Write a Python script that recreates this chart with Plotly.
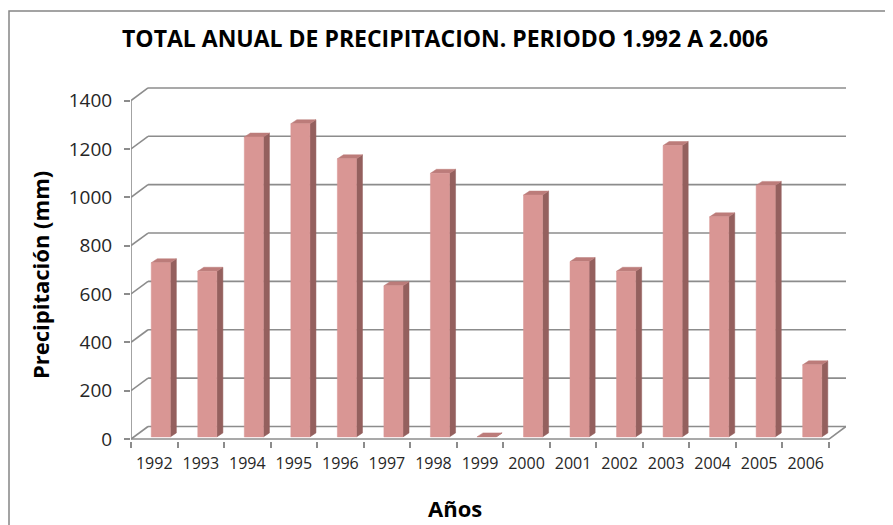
import plotly.graph_objects as go

years = ["1992", "1993", "1994", "1995", "1996", "1997", "1998", "1999",
         "2000", "2001", "2002", "2003", "2004", "2005", "2006"]
precip = [720, 685, 1240, 1295, 1150, 625, 1090, 0,
          1000, 725, 685, 1205, 910, 1040, 298]
y_ticks = [0, 200, 400, 600, 800, 1000, 1200, 1400]

# the page has an 8px body margin, so the figure is 8px smaller
W, H = 885, 517
ML, MR, MT, MB = 123, 47, 78, 84
# 3D look parameters (data units)
WALL_DX, WALL_DY = 0.366, 52      # depth of the back wall
BAR_DX, BAR_DY = 0.13, 16.5       # depth of each bar
BAR_SHIFT, BAR_HALF, BAR_BASE = 0.14, 0.205, 9

FRONT, SIDE, TOP = "#D99694", "#94605E", "#BC7C7A"
GRID = "#8C8C8C"
FONT = "Open Sans, Noto Sans, sans-serif"

fig = go.Figure()
shapes = []

# back wall gridlines + left wall slants
for v in y_ticks:
    shapes.append(dict(type="line", xref="x", yref="y", x0=-0.5 + WALL_DX, x1=14.5 + WALL_DX,
                       y0=v + WALL_DY, y1=v + WALL_DY, line=dict(color=GRID, width=1.6), layer="below"))
    shapes.append(dict(type="line", xref="x", yref="y", x0=-0.5, x1=-0.5 + WALL_DX,
                       y0=v, y1=v + WALL_DY, line=dict(color=GRID, width=1.6), layer="below"))
# floor front and right edge
shapes.append(dict(type="line", xref="x", yref="y", x0=-0.5, x1=14.5, y0=0, y1=0,
                   line=dict(color=GRID, width=1.6), layer="below"))
shapes.append(dict(type="line", xref="x", yref="y", x0=14.5, x1=14.5 + WALL_DX, y0=0, y1=WALL_DY,
                   line=dict(color=GRID, width=1.6), layer="below"))
# front vertical axis line
shapes.append(dict(type="line", xref="x", yref="y", x0=-0.5, x1=-0.5, y0=0, y1=y_ticks[-1],
                   line=dict(color=GRID, width=1.6), layer="below"))

# bars as polygons
for i, v in enumerate(precip):
    xl = i + BAR_SHIFT - BAR_HALF
    xr = i + BAR_SHIFT + BAR_HALF
    b = BAR_BASE
    t = BAR_BASE + v
    fig.add_trace(go.Scatter(x=[xr, xr, xr + BAR_DX, xr + BAR_DX, xr],
                             y=[b, t, t + BAR_DY, b + BAR_DY, b],
                             fill="toself", fillcolor=SIDE, mode="lines",
                             line=dict(color=SIDE, width=0.5), hoverinfo="skip", showlegend=False))
    fig.add_trace(go.Scatter(x=[xl, xr, xr + BAR_DX, xl + BAR_DX, xl],
                             y=[t, t, t + BAR_DY, t + BAR_DY, t],
                             fill="toself", fillcolor=TOP, mode="lines",
                             line=dict(color=TOP, width=0.5), hoverinfo="skip", showlegend=False))
    if v > 0:
        fig.add_trace(go.Scatter(x=[xl, xr, xr, xl, xl], y=[b, b, t, t, b],
                                 fill="toself", fillcolor=FRONT, mode="lines",
                                 line=dict(color=FRONT, width=0.5),
                                 name=years[i], hovertemplate=years[i] + ": %{text}<extra></extra>",
                                 text=[v] * 5, showlegend=False))

pw = W - ML - MR
ph = H - MT - MB


def px_x(px):
    return (px - ML) / pw


def px_y(py):
    return 1 - (py - MT) / ph


# chart border (outer frame)
shapes.append(dict(type="rect", xref="paper", yref="paper",
                   x0=px_x(1), x1=px_x(W + 10), y0=px_y(H + 10), y1=px_y(3),
                   line=dict(color="#858585", width=1.5), layer="below"))

annotations = [
    dict(text="<b>TOTAL ANUAL DE PRECIPITACION. PERIODO 1.992 A 2.006</b>",
         xref="paper", yref="paper", x=px_x(437), y=px_y(30), xanchor="center", yanchor="middle",
         showarrow=False, font=dict(family=FONT, size=23, color="black")),
    dict(text="<b>Precipitación (mm)</b>", textangle=-90,
         xref="paper", yref="paper", x=px_x(32), y=px_y(267), xanchor="center", yanchor="middle",
         showarrow=False, font=dict(family=FONT, size=22, color="black")),
    dict(text="<b>Años</b>",
         xref="paper", yref="paper", x=px_x(447), y=px_y(500), xanchor="center", yanchor="middle",
         showarrow=False, font=dict(family=FONT, size=22, color="black")),
]

fig.update_layout(
    width=W, height=H,
    margin=dict(l=ML, r=MR, t=MT, b=MB),
    paper_bgcolor="white", plot_bgcolor="white",
    shapes=shapes,
    annotations=annotations,
    showlegend=False,
    xaxis=dict(range=[-0.5, 14.5 + WALL_DX], tickvals=list(range(len(years))), ticktext=years,
               showgrid=False, zeroline=False, showline=False, ticks="",
               ticklabelstandoff=11, automargin=False,
               tickfont=dict(family=FONT, size=16, color="#262626"),
               minor=dict(ticks="outside", tick0=-0.5, dtick=1, ticklen=6, tickcolor=GRID, tickwidth=1.6,
                          showgrid=False),
               fixedrange=True),
    yaxis=dict(range=[-8, 1460], tickvals=y_ticks, showgrid=False, zeroline=False, showline=False,
               ticks="outside", ticklen=6, tickcolor=GRID, tickwidth=1.6,
               ticklabelstandoff=8, automargin=False,
               tickfont=dict(family=FONT, size=19, color="#262626"),
               fixedrange=True),
)

fig.write_html("out.html")
